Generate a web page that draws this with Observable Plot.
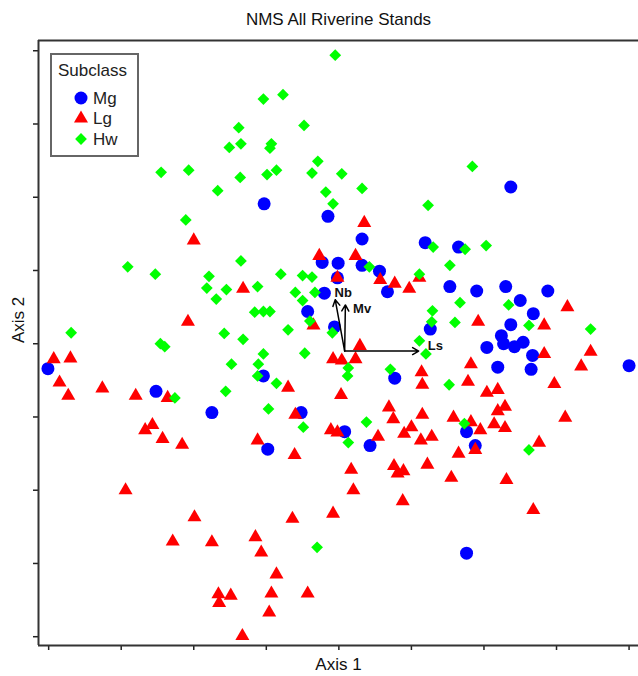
<!DOCTYPE html>
<html><head><meta charset="utf-8">
<script src="https://cdn.jsdelivr.net/npm/d3@7"></script>
<script src="https://cdn.jsdelivr.net/npm/@observablehq/plot@0.6"></script>
<style>
body{margin:0;background:#fff;font-family:"Liberation Sans",Arial,sans-serif;}
#wrap{position:relative;width:638px;height:676px;}
</style></head><body><div id="wrap"></div>
<script>
const titleText = "NMS All Riverine Stands";
const xLabel = "Axis 1";
const yLabel = "Axis 2";
const xTicks = [-4,-3,-2,-1,0,1,2,3,4];
const yTicks = [-4,-3,-2,-1,0,1,2,3,4];
const xDomain = [-4.14, 4.13];
const yDomain = [-4.12, 4.14];

const legendTitle = "Subclass";
const legendLabels = ["Mg","Lg","Hw"];

// Mg (blue circles): [axis1, axis2]
const mgPoints = [[-1.03,1.91],[-0.15,1.74],[0.32,1.43],[1.19,1.38],[2.37,2.14],[1.65,1.32],[-0.23,1.11],[-0.01,1.10],[0.32,1.07],[0.56,0.99],[0.67,0.71],[-0.20,0.69],[-0.02,0.90],[-0.43,0.44],[-0.06,0.23],[-1.04,-0.44],[0.77,-0.47],[1.26,0.20],[-0.52,-0.94],[0.08,-1.20],[1.53,0.78],[1.90,0.72],[2.30,0.78],[2.88,0.72],[2.50,0.59],[2.68,0.41],[2.37,0.26],[2.24,0.11],[2.27,0.00],[2.42,-0.04],[2.54,0.02],[2.04,-0.05],[2.67,-0.16],[2.19,-0.32],[2.65,-0.35],[4.00,-0.30],[1.76,-1.20],[1.88,-1.39],[-0.98,-1.44],[0.43,-1.39],[1.76,-2.86],[-4.01,-0.34],[-2.52,-0.65],[-1.75,-0.94]];

// Lg (red triangles)
const lgPoints = [[-2.00,1.41],[0.35,1.65],[-2.08,0.30],[-3.93,-0.21],[-3.70,-0.20],[-3.85,-0.53],[-3.73,-0.71],[-3.26,-0.61],[-2.80,-0.71],[-2.36,-0.74],[-2.67,-1.18],[-2.57,-1.11],[-2.43,-1.30],[-2.16,-1.38],[-0.27,1.20],[0.23,1.20],[0.57,0.87],[0.77,0.82],[0.97,0.75],[1.11,0.90],[-1.32,0.75],[-0.02,0.90],[-0.35,0.25],[0.29,-0.03],[-0.08,-0.21],[0.04,-0.23],[0.23,-0.21],[-0.70,-0.60],[1.14,-0.39],[1.15,-0.56],[0.03,-0.70],[-0.60,-0.97],[0.69,-0.87],[0.75,-1.03],[1.15,-0.97],[1.00,-1.14],[0.90,-1.23],[0.54,-1.27],[-0.11,-1.18],[-0.02,-1.21],[-1.12,-1.32],[1.28,-1.27],[1.13,-1.32],[3.15,0.50],[1.92,0.30],[2.83,0.25],[2.83,-0.14],[3.47,-0.11],[3.34,-0.31],[1.82,-0.28],[1.78,-0.52],[2.97,-0.55],[2.04,-0.67],[2.19,-0.63],[2.19,-0.92],[2.29,-0.86],[1.58,-1.01],[3.12,-1.01],[1.82,-1.07],[1.95,-1.18],[2.14,-1.10],[2.29,-1.15],[2.76,-1.35],[1.88,-1.45],[1.65,-1.50],[1.55,-1.83],[2.31,-1.86],[2.68,-2.27],[-0.61,-1.52],[0.17,-1.72],[0.20,-2.00],[0.76,-1.67],[0.81,-1.77],[0.89,-1.74],[1.22,-1.65],[0.88,-2.15],[-0.08,-2.32],[-0.64,-2.39],[-1.15,-2.64],[-1.07,-2.85],[-0.86,-3.15],[-0.93,-3.41],[-0.43,-3.41],[-0.96,-3.67],[-1.33,-3.99],[-2.94,-2.00],[-1.99,-2.37],[-2.29,-2.70],[-1.75,-2.71],[-1.66,-3.42],[-1.65,-3.54],[-1.49,-3.44]];

// Hw (green diamonds)
const hwPoints = [[-0.05,3.94],[-1.04,3.34],[-0.77,3.40],[-1.38,2.95],[-1.51,2.68],[-1.35,2.73],[-2.45,2.34],[-2.07,2.37],[-1.67,2.09],[-1.36,2.27],[-2.11,1.69],[-0.48,2.98],[-0.93,2.73],[-0.95,2.67],[-0.99,2.31],[-0.86,2.37],[-0.29,2.49],[-0.37,2.33],[0.04,2.32],[-0.18,2.07],[0.32,2.12],[-0.08,1.91],[1.23,1.89],[1.84,2.42],[2.03,1.34],[1.74,1.29],[1.30,1.32],[-2.91,1.05],[-2.53,0.95],[-1.79,0.92],[-1.82,0.76],[-1.55,0.74],[-1.69,0.61],[-1.35,1.13],[-3.69,0.15],[-1.58,0.14],[-2.46,0.00],[-2.40,-0.04],[-1.32,0.06],[-1.48,-0.28],[-2.26,-0.74],[-1.56,-0.65],[0.42,1.05],[1.11,0.95],[-0.80,0.95],[-0.50,0.93],[-0.37,0.91],[-1.12,0.78],[-0.60,0.70],[-0.33,0.70],[-0.50,0.59],[-1.16,0.43],[-1.04,0.44],[-0.95,0.44],[-0.40,0.31],[-0.09,0.15],[-0.70,0.19],[-1.04,-0.14],[-0.47,-0.13],[0.13,-0.33],[0.12,-0.44],[-1.11,-0.28],[-1.12,-0.44],[-0.86,-0.54],[0.71,-0.35],[1.11,0.04],[1.29,0.45],[1.28,0.30],[1.20,-0.14],[-0.97,-0.89],[-0.49,-1.14],[0.38,-1.07],[1.53,1.07],[1.67,0.56],[2.34,0.53],[1.60,0.29],[2.62,0.25],[3.47,0.20],[1.52,-0.56],[1.73,-1.09],[0.13,-1.35],[2.62,-1.45],[-0.30,-2.78]];

// Environmental vectors
const vecNames = ["Nb","Mv","Ls"];
const vecX1 = [0.08,0.08,0.08];
const vecY1 = [-0.10,-0.10,-0.10];
const vecX2 = [-0.05,0.09,1.10];
const vecY2 = [0.60,0.53,-0.10];
const vecLabelX = [0.06,0.32,1.33];
const vecLabelY = [0.70,0.48,-0.03];

const vectors = vecNames.map((n,i)=>({name:n,x1:vecX1[i],y1:vecY1[i],x2:vecX2[i],y2:vecY2[i],lx:vecLabelX[i],ly:vecLabelY[i]}));

const colors = {Mg:"#0000ff", Lg:"#ff0000", Hw:"#00ff00"};
const radii = {Mg:6.5, Lg:5.2, Hw:5.3};

const chart = Plot.plot({
  width:638, height:676,
  marginLeft:38, marginRight:0, marginTop:40, marginBottom:31,
  style:{fontFamily:"'Liberation Sans', Arial, sans-serif", background:"white", color:"#222"},
  x:{domain:xDomain},
  y:{domain:yDomain},
  marks:[
    Plot.axisX({ticks:xTicks, tickSize:5, tickFormat:()=>"", label:null, strokeWidth:1.5}),
    Plot.axisY({ticks:yTicks, tickSize:5, tickFormat:()=>"", label:null, strokeWidth:1.5}),
    Plot.ruleX([xDomain[0]], {stroke:"#333", strokeWidth:2}),
    Plot.ruleY(yDomain, {stroke:"#333", strokeWidth:2}),
    Plot.dot(mgPoints, {x:d=>d[0], y:d=>d[1], r:radii.Mg, fill:colors.Mg, symbol:"circle"}),
    Plot.dot(lgPoints, {x:d=>d[0], y:d=>d[1], r:radii.Lg, fill:colors.Lg, symbol:"triangle"}),
    Plot.dot(hwPoints, {x:d=>d[0], y:d=>d[1], r:radii.Hw, fill:colors.Hw, symbol:"diamond2"}),
    Plot.arrow(vectors, {x1:"x1", y1:"y1", x2:"x2", y2:"y2", stroke:"black", strokeWidth:1.5, headLength:7}),
    Plot.text(vectors, {x:"lx", y:"ly", text:"name", fontSize:13, fontWeight:"bold", fill:"#111"}),
    Plot.text([titleText], {text:d=>d, frameAnchor:"top", lineAnchor:"middle", dy:-21, fontSize:17, fill:"#111"}),
    Plot.text([xLabel], {text:d=>d, frameAnchor:"bottom", lineAnchor:"middle", dy:19, fontSize:17, fill:"#111"}),
    Plot.text([yLabel], {text:d=>d, frameAnchor:"left", lineAnchor:"middle", rotate:-90, dx:-20, fontSize:17, fill:"#111"})
  ]
});
const wrap = document.getElementById("wrap");
wrap.appendChild(chart);

// Legend box
const shapes = {Mg:d3.symbolCircle, Lg:d3.symbolTriangle, Hw:d3.symbolDiamond2};
const leg = d3.select(wrap).append("svg")
  .attr("width",90).attr("height",105)
  .style("position","absolute").style("left","50px").style("top","53px")
  .style("font-family","'Liberation Sans', Arial, sans-serif");
leg.append("rect").attr("x",1).attr("y",1).attr("width",87).attr("height",102)
  .attr("fill","white").attr("stroke","#666").attr("stroke-width",2);
leg.append("text").attr("x",8).attr("y",23).attr("font-size",17).attr("fill","#222").text(legendTitle);
legendLabels.forEach((lab,i)=>{
  const cy = 45 + i*20.5;
  leg.append("path")
    .attr("d", d3.symbol(shapes[lab], Math.PI*radii[lab]*radii[lab])())
    .attr("transform",`translate(31,${cy})`)
    .attr("fill", colors[lab]);
  leg.append("text").attr("x",43).attr("y",cy).attr("dy","0.35em")
    .attr("font-size",17).attr("fill","#222").text(lab);
});
</script>
</body></html>
